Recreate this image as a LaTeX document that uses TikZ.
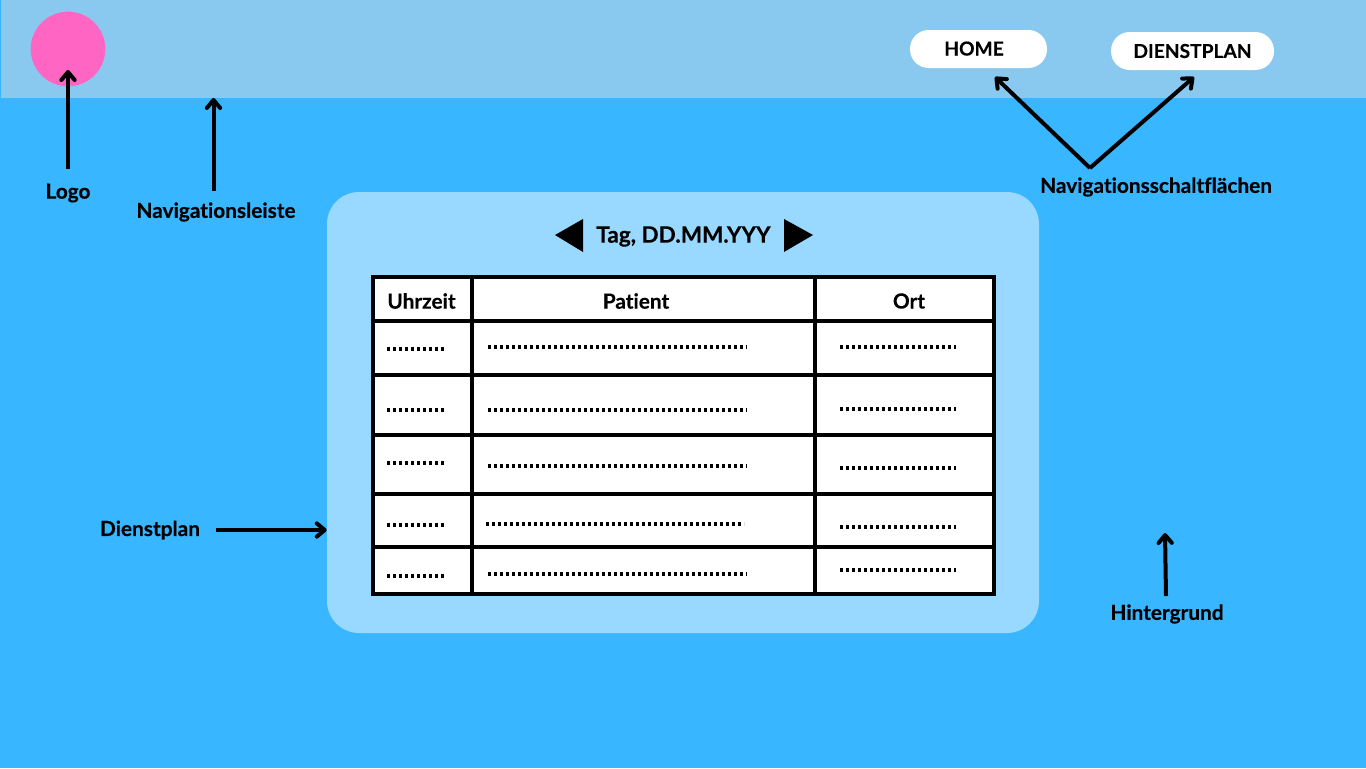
\documentclass[tikz,border=0pt]{standalone}
\usepackage{fontspec}
\setmainfont[Ligatures=CommonOff,BoldFeatures={FakeBold=0.3}]{Lato}
\usepackage{tikz}
\usetikzlibrary{arrows.meta,calc}
\definecolor{dpsky}   {HTML}{38B6FF}
\definecolor{dpbar}   {HTML}{89C9EF}
\definecolor{dppanel} {HTML}{99D9FF}
\definecolor{dplogo}  {HTML}{FF66C4}
\tikzset{
  dplabel/.style={font=\fontsize{15.6}{18}\selectfont\bfseries, inner sep=0pt},
  dpbutton/.style={fill=white, rounded corners=14pt, inner sep=0pt, minimum height=28.5pt,
                   font=\fontsize{14.4}{16}\selectfont\bfseries},
  dparrow/.style={-{Straight Barb[length=6pt,width=10pt,round]}, line width=3pt, draw=black},
  dprule/.style={draw=black, line width=2.3pt},
  dpdots/.style={draw=black, line width=2.5pt, dash pattern=on 2.2pt off 2.3pt},
}
\begin{document}
\begin{tikzpicture}[x=0.75pt,y=-0.75pt]
  \useasboundingbox (0,0) rectangle (1366,768);
  \fill[dpsky] (0,0) rectangle (1366,768);
  \fill[dpbar] (1,0) rectangle (1366,97.5);

  % logo and buttons
  \node[circle,fill=dplogo,minimum size=56pt,inner sep=0pt] (logo) at (68,49) {};
  \node[dpbutton,minimum width=102.75pt] (homebtn) at (978.5,49) {\raisebox{0.75pt}{HOME}\hspace*{6.75pt}};
  \node[dpbutton,minimum width=122.25pt] (planbtn) at (1192.5,51) {DIENSTPLAN};

  % panel
  \node[fill=dppanel,rounded corners=24pt,minimum width=534pt,minimum height=330.75pt,
        inner sep=0pt] (panel) at (683,412.5) {};
  \node[dplabel,font=\fontsize{16.9}{18}\selectfont\bfseries] (datum) at (683.5,236.5) {Tag, DD.MM.YYY};
  \fill (555,235) -- (583,219) -- (583,252) -- cycle;
  \fill (813,235) -- (784,219) -- (784,252) -- cycle;

  % table
  \fill[white] (373,277) rectangle (994,594);
  \draw[dprule] (373,277) rectangle (994,594);
  \foreach \x in {472,815}
    {\draw[dprule] (\x,277) -- (\x,594);}
  \foreach \y in {321,375,435,494,547}
    {\draw[dprule] (373,\y) -- (994,\y);}
  \node[dplabel] (uhrzeit) at (421.5,301) {Uhrzeit};
  \node[dplabel] (patient) at (636,301) {Patient};
  \node[dplabel] (ort) at (909,301) {Ort};

  % dots
  \foreach \y in {349,410,463,525,576}
    {\draw[dpdots] (387,\y) -- (446,\y);}
  \foreach \y in {347,410,466,574}
    {\draw[dpdots] (488,\y) -- (747,\y);}
  \draw[dpdots] (486,524) -- (744,524);
  \foreach \y in {347,409,468,527,570}
    {\draw[dpdots] (840,\y) -- (956,\y);}

  % captions
  \node[dplabel] (logolabel) at (68,193) {Logo};
  \node[dplabel] (barlabel) at (216,212) {Navigationsleiste};
  \node[dplabel] (schaltlabel) at (1156,187) {Navigationsschaltflächen};
  \node[dplabel] (planlabel) at (150,530) {Dienstplan};
  \node[dplabel] (bglabel) at (1167,614) {Hintergrund};

  \coordinate (logotip) at (68,70);
  \coordinate (barfoot) at (213.5,191);
  \coordinate (bartip) at (213.5,98);
  \coordinate (fork) at (1090,168);
  \coordinate (hometip) at (995,77);
  \coordinate (plantip) at (1194,77);
  \coordinate (bgfoot) at (1166,596);
  \coordinate (bgtip) at (1165,533);

  \draw[dparrow,shorten <=10.5pt] (logolabel.north) -- (logotip);
  \draw[dparrow] (barfoot) -- (bartip);
  \draw[dparrow] (fork) -- (hometip);
  \draw[dparrow] (fork) -- (plantip);
  \draw[dparrow,shorten <=12pt] (planlabel.east) -- (planlabel.east -| panel.west);
  \draw[dparrow] (bgfoot) -- (bgtip);
\end{tikzpicture}
\end{document}
